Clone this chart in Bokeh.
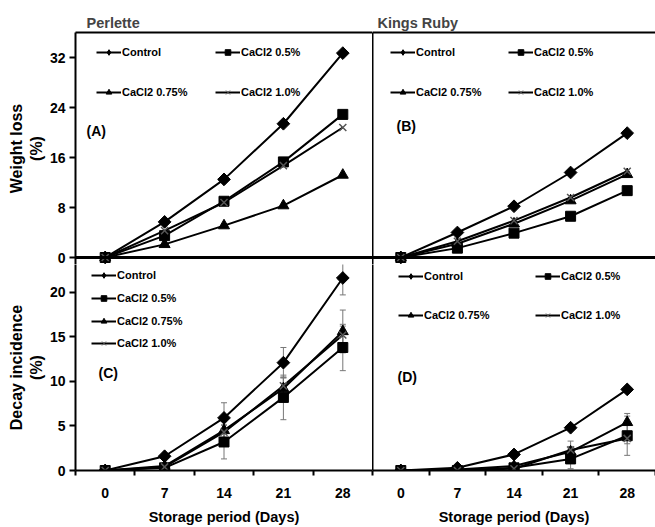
import math
from bokeh.plotting import figure
from bokeh.layouts import gridplot
from bokeh.models import (Range1d, FixedTicker, Legend, LegendItem, Label, Whisker,
                          ColumnDataSource, TeeHead, LinearAxis, Span)
from bokeh.embed import file_html
from bokeh.resources import INLINE

# ---------------- data ----------------
days = [0, 7, 14, 21, 28]
series_names = ["Control", "CaCl2 0.5%", "CaCl2 0.75%", "CaCl2 1.0%"]

# (A) Perlette - weight loss (%)
perlette_wl_control = [0, 5.7, 12.5, 21.4, 32.7]
perlette_wl_ca05 = [0, 3.5, 9.0, 15.3, 22.9]
perlette_wl_ca075 = [0, 2.1, 5.1, 8.3, 13.2]
perlette_wl_ca10 = [0, 4.3, 8.8, 14.7, 20.8]

# (B) Kings Ruby - weight loss (%)
kings_wl_control = [0, 4.0, 8.2, 13.6, 19.9]
kings_wl_ca05 = [0, 1.5, 3.9, 6.6, 10.7]
kings_wl_ca075 = [0, 2.2, 5.4, 9.1, 13.3]
kings_wl_ca10 = [0, 2.6, 5.9, 9.6, 13.8]

# (C) Perlette - decay incidence (%)
perlette_di_control = [0, 1.6, 5.9, 12.1, 21.6]
perlette_di_ca05 = [0, 0.3, 3.2, 8.2, 13.8]
perlette_di_ca075 = [0, 0.5, 4.5, 9.2, 15.6]
perlette_di_ca10 = [0, 0.4, 4.3, 9.5, 15.2]
perlette_di_control_err = [0, 0.2, 1.7, 1.7, 1.9]
perlette_di_ca05_err = [0, 0.2, 1.9, 2.5, 2.6]
perlette_di_ca075_err = [0, 0.2, 1.0, 1.2, 2.4]
perlette_di_ca10_err = [0, 0.2, 0.8, 1.0, 1.0]

# (D) Kings Ruby - decay incidence (%)
kings_di_control = [0, 0.3, 1.8, 4.8, 9.1]
kings_di_ca05 = [0, 0.0, 0.3, 1.3, 3.9]
kings_di_ca075 = [0, 0.1, 0.5, 2.1, 5.4]
kings_di_ca10 = [0, 0.0, 0.2, 2.3, 3.6]
kings_di_control_err = [0, 0.1, 0.2, 0.3, 0.3]
kings_di_ca05_err = [0, 0.0, 0.2, 1.1, 2.2]
kings_di_ca075_err = [0, 0.0, 0.2, 0.6, 1.0]
kings_di_ca10_err = [0, 0.0, 0.2, 1.0, 0.6]

x_ticks = [0, 7, 14, 21, 28]
x_minor_ticks = [-3.5, 3.5, 10.5, 17.5, 24.5, 31.5]
wl_ticks = [0, 8, 16, 24, 32]
di_ticks = [0, 5, 10, 15, 20]

FONT = "Liberation Sans"

MARKERS = [
    dict(marker="square", size=9, angle=math.pi / 4, line_color="black", fill_color="black", line_width=1),
    dict(marker="square", size=10, angle=0, line_color="black", fill_color="black", line_width=1),
    dict(marker="triangle", size=11, angle=0, line_color="black", fill_color="black", line_width=1),
    dict(marker="x", size=10, angle=0, line_color="#555555", fill_color="#555555", line_width=1.5),
]
LEGEND_MARKERS = ["diamond", "square", "triangle", "x"]

# ---------------- layout geometry (pixels) ----------------
LEFT_W, RIGHT_W = 372, 283
TOP_H, BOT_H = 264, 263
TOP_BORDER, LEFT_BORDER, BOT_BORDER = 32, 75, 55
EXT = 7                      # extra frame below the zero line in the top row
WL_MAX = 36.0                # top of weight-loss axis
WL_PX = TOP_H - TOP_BORDER - EXT   # pixels between 0 and WL_MAX
DI_PX_PER_UNIT = 9.0
DI_TOP = (BOT_H - BOT_BORDER) / DI_PX_PER_UNIT


def style_axis(ax, black_width=2, color="black"):
    ax.axis_line_color = color
    ax.axis_line_width = black_width
    ax.major_tick_line_color = "black"
    ax.major_tick_line_width = 2
    ax.minor_tick_line_color = "black"
    ax.minor_tick_line_width = 2
    ax.major_label_text_font = FONT
    ax.major_label_text_font_style = "bold"
    ax.major_label_text_font_size = "14px"
    ax.major_label_text_color = "black"
    ax.axis_label_text_font = FONT
    ax.axis_label_text_font_style = "bold"
    ax.axis_label_text_color = "black"


def blank_axis(ax, width=2, color="black"):
    style_axis(ax, width, color)
    ax.ticker = FixedTicker(ticks=[], minor_ticks=[])
    ax.major_tick_out = 0
    ax.major_tick_in = 0
    ax.minor_tick_out = 0
    ax.minor_tick_in = 0
    ax.major_label_standoff = 0


def make_fig(width, height, y_range, left, top, bottom):
    p = figure(width=width, height=height,
               x_range=Range1d(-3.5, 31.5), y_range=y_range,
               output_backend="svg", toolbar_location=None,
               min_border_left=left, min_border_right=0,
               min_border_top=top, min_border_bottom=bottom)
    p.grid.visible = False
    p.outline_line_color = None
    p.background_fill_color = "white"
    p.border_fill_color = "white"
    return p


def draw_series(p, ys, errs=None):
    if errs is not None:
        for y, e in zip(ys, errs):
            src = ColumnDataSource(dict(
                x=days,
                upper=[v + d for v, d in zip(y, e)],
                lower=[v - d for v, d in zip(y, e)]))
            p.add_layout(Whisker(source=src, base="x", upper="upper", lower="lower",
                                 line_color="#777777", line_width=1,
                                 upper_head=TeeHead(size=6, line_color="#777777", line_width=1),
                                 lower_head=TeeHead(size=6, line_color="#777777", line_width=1)))
    groups = []
    for i, y in enumerate(ys):
        r_line = p.line(days, y, line_color="black", line_width=2)
        m = MARKERS[i]
        p.scatter(days, y, marker=m["marker"], size=m["size"], angle=m["angle"],
                  line_color=m["line_color"], fill_color=m["fill_color"],
                  line_width=m["line_width"])
        # legend-only marker renderer (not shown in the plot)
        r_leg = p.scatter(days, y, marker=LEGEND_MARKERS[i], size=m["size"],
                          line_color=m["line_color"], fill_color=m["fill_color"],
                          line_width=1 if i == 3 else 1)
        r_leg.visible = False
        groups.append([r_line, r_leg])
    return groups


def add_legend(p, groups, positions):
    for name, rends, (lx, ly) in zip(series_names, groups, positions):
        lg = Legend(items=[LegendItem(label=name, renderers=rends)],
                    location=(lx, ly), padding=0, margin=0, spacing=0,
                    border_line_color=None, background_fill_alpha=0,
                    glyph_width=25, glyph_height=14, label_height=14,
                    label_standoff=1, label_text_font=FONT,
                    label_text_font_style="bold", label_text_font_size="11px",
                    label_text_color="black", click_policy="none")
        p.add_layout(lg)


def add_letter(p, text, lx, ly):
    p.add_layout(Label(x=lx, y=ly, x_units="screen", y_units="screen", text=text,
                       text_font=FONT, text_font_style="bold", text_font_size="14px",
                       text_baseline="middle", text_align="left", text_color="black"))


def set_title(p, text, offset):
    p.title.text = text
    p.title.text_font = FONT
    p.title.text_font_style = "bold"
    p.title.text_font_size = "14.5px"
    p.title.align = "left"
    p.title.offset = offset
    p.title.standoff = 4


def wl_range():
    return Range1d(-EXT * WL_MAX / WL_PX, WL_MAX)


def top_row_common(p):
    p.xaxis.visible = False
    top = LinearAxis()
    blank_axis(top, 2)
    p.add_layout(top, "above")
    p.add_layout(Span(location=0, dimension="width", line_color="black", line_width=3))


def bottom_axis(ax):
    style_axis(ax)
    ax.ticker = FixedTicker(ticks=x_ticks, minor_ticks=x_minor_ticks)
    ax.major_tick_out = 0
    ax.major_tick_in = 0
    ax.minor_tick_out = 5
    ax.minor_tick_in = 0
    ax.major_label_standoff = 12
    ax.axis_label = "Storage period (Days)"
    ax.axis_label_text_font_size = "14.5px"
    ax.axis_label_standoff = 8


def labelled_y(ax, ticks, label):
    style_axis(ax)
    ax.ticker = FixedTicker(ticks=ticks, minor_ticks=[])
    ax.major_tick_out = 6
    ax.major_tick_in = 0
    ax.minor_tick_out = 0
    ax.minor_tick_in = 0
    ax.major_label_standoff = 4
    ax.axis_label = label
    ax.axis_label_text_font_size = "16px"
    ax.axis_label_standoff = 2


def right_border(p):
    r = LinearAxis()
    blank_axis(r, 1, "#999999")
    p.add_layout(r, "right")


# ---------- (A) ----------
pA = make_fig(LEFT_W, TOP_H, wl_range(), LEFT_BORDER, TOP_BORDER, 0)
set_title(pA, "Perlette", 11)
labelled_y(pA.yaxis[0], wl_ticks, "Weight loss\n(%)")
top_row_common(pA)
gA = draw_series(pA, [perlette_wl_control, perlette_wl_ca05, perlette_wl_ca075, perlette_wl_ca10])
add_legend(pA, gA, [(21, 205), (140, 205), (21, 165), (140, 165)])
add_letter(pA, "(A)", 11, 134)

# ---------- (B) ----------
pB = make_fig(RIGHT_W, TOP_H, wl_range(), 0, TOP_BORDER, 0)
set_title(pB, "Kings Ruby", 5)
blank_axis(pB.yaxis[0], 2)
top_row_common(pB)
right_border(pB)
gB = draw_series(pB, [kings_wl_control, kings_wl_ca05, kings_wl_ca075, kings_wl_ca10])
add_legend(pB, gB, [(18, 205), (136, 205), (18, 165), (136, 165)])
add_letter(pB, "(B)", 24, 139)

# ---------- (C) ----------
pC = make_fig(LEFT_W, BOT_H, Range1d(0, DI_TOP), LEFT_BORDER, 0, BOT_BORDER)
labelled_y(pC.yaxis[0], di_ticks, "Decay incidence\n(%)")
bottom_axis(pC.xaxis[0])
gC = draw_series(pC, [perlette_di_control, perlette_di_ca05, perlette_di_ca075, perlette_di_ca10],
                 [perlette_di_control_err, perlette_di_ca05_err, perlette_di_ca075_err, perlette_di_ca10_err])
add_legend(pC, gC, [(16, 188), (16, 165), (16, 142), (16, 120)])
add_letter(pC, "(C)", 23, 98)

# ---------- (D) ----------
pD = make_fig(RIGHT_W, BOT_H, Range1d(0, DI_TOP), 0, 0, BOT_BORDER)
blank_axis(pD.yaxis[0], 2)
right_border(pD)
bottom_axis(pD.xaxis[0])
gD = draw_series(pD, [kings_di_control, kings_di_ca05, kings_di_ca075, kings_di_ca10],
                 [kings_di_control_err, kings_di_ca05_err, kings_di_ca075_err, kings_di_ca10_err])
add_legend(pD, gD, [(26, 187), (163, 187), (26, 148), (163, 148)])
add_letter(pD, "(D)", 25, 94)

grid = gridplot([[pA, pB], [pC, pD]], toolbar_location=None)

open("out.html", "w").write(file_html(grid, INLINE))
